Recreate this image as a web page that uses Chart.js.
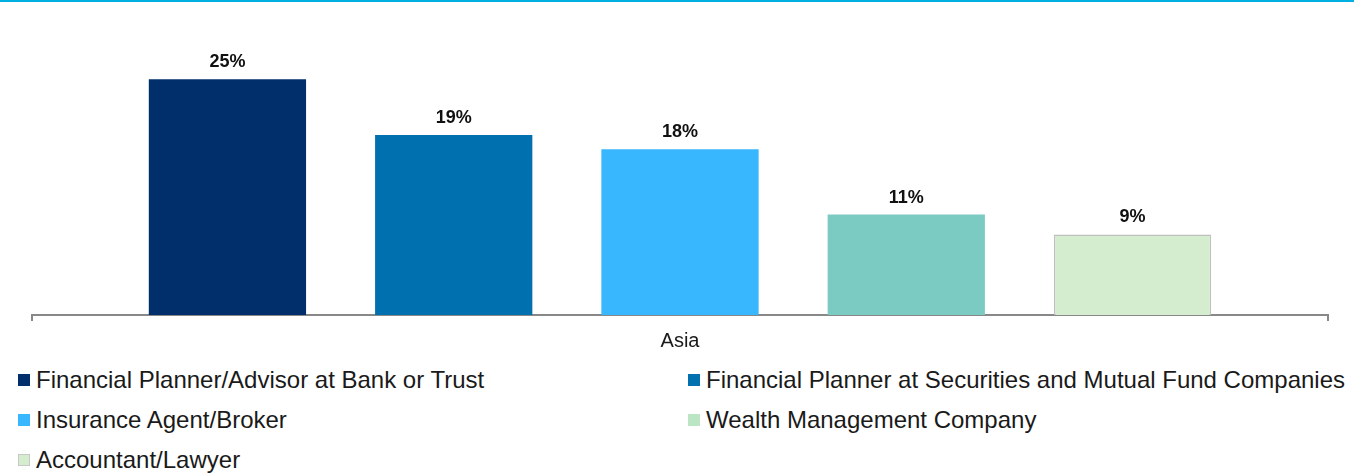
<!DOCTYPE html>
<html lang="en">
<head>
    <meta charset="UTF-8">
    <title>Asia advisor chart</title>
    <script src="https://cdn.jsdelivr.net/npm/chart.js"></script>
    <style>
        body {
            margin: 0;
            background: #fff;
            font-family: "Liberation Sans", Arial, sans-serif;
        }
        .topline {
            position: absolute;
            left: 0; top: 0;
            width: 1354px; height: 2px;
            background: #00b0e0;
        }
        #wrap {
            position: absolute;
            left: 0; top: 0;
            width: 1354px; height: 361px;
        }
        .legend {
            position: absolute;
            left: 0; top: 0;
            width: 1354px;
        }
        .legend div {
            position: absolute;
            font-size: 24px;
            color: #1a1a1a;
            white-space: nowrap;
            line-height: 28px;
        }
        .legend span {
            display: inline-block;
            width: 12px; height: 12px;
            margin-right: 6px;
            box-sizing: border-box;
            vertical-align: 2px;
        }
    </style>
</head>
<body>
    <div class="topline"></div>
    <div id="wrap"><canvas id="chart"></canvas></div>
    <div class="legend" id="legend"></div>

    <script>
        const categories = ['Asia'];
        const seriesNames = [
            'Financial Planner/Advisor at Bank or Trust',
            'Financial Planner at Securities and Mutual Fund Companies',
            'Insurance Agent/Broker',
            'Wealth Management Company',
            'Accountant/Lawyer'
        ];
        const seriesValues = [24.9, 19.0, 17.5, 10.6, 8.5];
        const barColors = ['#002f6c', '#0070ae', '#38b6fe', '#7ccbc3', '#d4edcf'];
        const legendColors = ['#002f6c', '#0070ae', '#38b6fe', '#bce5c4', '#d4edcf'];

        // value labels above bars
        const barLabels = {
            id: 'barLabels',
            afterDatasetsDraw(chart) {
                const ctx = chart.ctx;
                ctx.save();
                ctx.font = 'bold 18px "Liberation Sans", Arial, sans-serif';
                ctx.fillStyle = '#111';
                ctx.textAlign = 'center';
                ctx.textBaseline = 'bottom';
                chart.data.datasets.forEach((ds, i) => {
                    chart.getDatasetMeta(i).data.forEach((bar, j) => {
                        ctx.fillText(Math.round(ds.data[j]) + '%', bar.x, bar.y - 8);
                    });
                });
                ctx.restore();
            }
        };

        const ctx = document.getElementById('chart').getContext('2d');
        new Chart(ctx, {
            type: 'bar',
            data: {
                labels: categories,
                datasets: seriesNames.map((name, i) => ({
                    label: name,
                    data: [seriesValues[i]],
                    backgroundColor: barColors[i],
                    borderColor: i === 4 ? '#c0c0c0' : barColors[i],
                    borderWidth: i === 4 ? 1.5 : 0,
                    categoryPercentage: 0.873,
                    barPercentage: 0.695
                }))
            },
            options: {
                responsive: true,
                maintainAspectRatio: false,
                animation: false,
                layout: { padding: { left: 32, right: 26, top: 10, bottom: 0 } },
                plugins: {
                    legend: { display: false },
                    tooltip: { enabled: false }
                },
                scales: {
                    x: {
                        grid: {
                            drawOnChartArea: false,
                            color: '#888',
                            tickLength: 6,
                            lineWidth: 2
                        },
                        border: { color: '#888', width: 2 },
                        ticks: {
                            color: '#1a1a1a',
                            font: { family: '"Liberation Sans", Arial, sans-serif', size: 20 },
                            padding: 8
                        }
                    },
                    y: {
                        display: false,
                        min: 0,
                        max: 32.2
                    }
                }
            },
            plugins: [barLabels]
        });

        // html legend, two columns
        const legend = document.getElementById('legend');
        const colX = [18, 688];
        const rowY = [366, 406, 446];
        seriesNames.forEach((name, i) => {
            const item = document.createElement('div');
            item.style.left = colX[i % 2] + 'px';
            item.style.top = rowY[Math.floor(i / 2)] + 'px';
            const box = document.createElement('span');
            box.style.background = legendColors[i];
            if (i === 4) box.style.border = '1px solid #c8c8c8';
            item.appendChild(box);
            item.appendChild(document.createTextNode(name));
            legend.appendChild(item);
        });
    </script>
</body>
</html>
